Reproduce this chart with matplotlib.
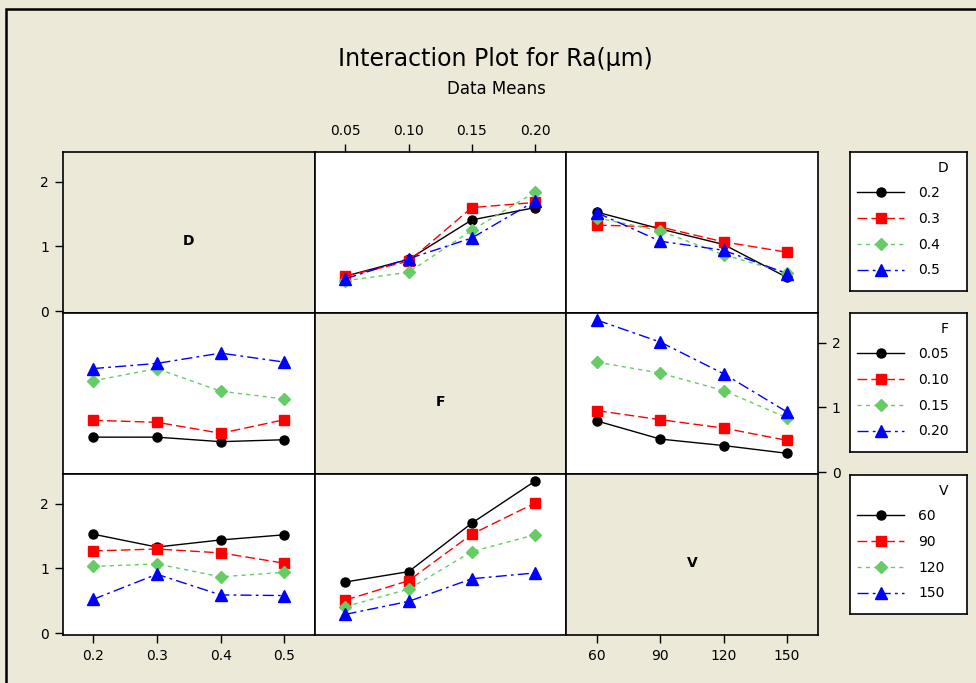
import numpy as np
import matplotlib
matplotlib.use('Agg')
import matplotlib.pyplot as plt
from matplotlib.patches import Rectangle

# ---- Data (means of Ra) ----
factors = ['D', 'F', 'V']
D_levels = [0.2, 0.3, 0.4, 0.5]
F_levels = [0.05, 0.10, 0.15, 0.20]
V_levels = [60, 90, 120, 150]
D_labels = ['0.2', '0.3', '0.4', '0.5']
F_labels = ['0.05', '0.10', '0.15', '0.20']
V_labels = ['60', '90', '120', '150']

# rows = D level, cols = F level
DF_means = [[0.54, 0.80, 1.41, 1.60],
            [0.54, 0.77, 1.60, 1.68],
            [0.47, 0.60, 1.25, 1.84],
            [0.50, 0.81, 1.13, 1.70]]
# rows = D level, cols = V level
DV_means = [[1.53, 1.27, 1.03, 0.52],
            [1.33, 1.30, 1.07, 0.91],
            [1.44, 1.24, 0.87, 0.59],
            [1.52, 1.08, 0.94, 0.58]]
# rows = F level, cols = V level
FV_means = [[0.79, 0.51, 0.41, 0.29],
            [0.95, 0.81, 0.68, 0.49],
            [1.70, 1.53, 1.26, 0.84],
            [2.35, 2.01, 1.52, 0.93]]

levels = [D_levels, F_levels, V_levels]
labels = [D_labels, F_labels, V_labels]
xlims = [(0.153, 0.547), (0.0255, 0.2245), (45.3, 164.7)]

tables = {
    (0, 1): np.array(DF_means), (1, 0): np.array(DF_means).T,
    (0, 2): np.array(DV_means), (2, 0): np.array(DV_means).T,
    (1, 2): np.array(FV_means), (2, 1): np.array(FV_means).T,
}

# ---- Styles ----
BG = '#ECE9D8'
colors = ['black', '#FF0000', '#66CC66', '#0000FF']
markers = ['o', 's', 'D', '^']
msizes = [6.5, 6.5, 6, 8]
lstyles = ['-', (0, (7, 3)), (0, (3, 3)), (0, (8, 3, 2, 3))]

W, H = 976, 683
fig = plt.figure(figsize=(W / 100, H / 100), dpi=100, facecolor=BG)

def px_axes(x0, y0, x1, y1):
    return fig.add_axes([x0 / W, 1 - y1 / H, (x1 - x0) / W, (y1 - y0) / H])

# outer border (top / left visible)
fig.patches.append(Rectangle((6 / W, -0.1), 2, 1 - 9 / H + 0.1,
                             transform=fig.transFigure, fill=False,
                             lw=1.8, ec='black'))

fig.text(495 / W, 1 - 59 / H, 'Interaction Plot for Ra(\u03bcm)',
         ha='center', va='center', fontsize=17)
fig.text(496 / W, 1 - 89 / H, 'Data Means', ha='center', va='center',
         fontsize=12)

col_x = [63, 314.5, 566, 818]
row_y = [152, 313, 474, 635]
handles = {}

for i in range(3):
    for j in range(3):
        ax = px_axes(col_x[j], row_y[i], col_x[j + 1], row_y[i + 1])
        for s in ax.spines.values():
            s.set_linewidth(1.2)
        ax.set_xlim(*xlims[j])
        ax.set_ylim(-0.03, 2.46)
        ax.set_xticks([])
        ax.set_yticks([])
        ax.tick_params(direction='out', length=6, width=1, labelsize=10,
                       pad=4)
        # y axis: left on rows 1 and 3, right on row 2
        if j == 0 and i in (0, 2):
            ax.set_yticks([0, 1, 2])
        if i == 1 and j == 2:
            ax.yaxis.tick_right()
            ax.set_yticks([0, 1, 2])
        # x axis: F on top of column 2, D and V at the bottom
        if i == 0 and j == 1:
            ax.xaxis.tick_top()
            ax.set_xticks(levels[j])
            ax.set_xticklabels(labels[j])
        if i == 2 and j in (0, 2):
            ax.set_xticks(levels[j])
            ax.set_xticklabels(labels[j])
        if i == j:
            ax.set_facecolor(BG)
            ax.text(0.5, 0.45, factors[i], transform=ax.transAxes,
                    ha='center', va='center', fontsize=10,
                    fontweight='bold')
            continue
        ax.set_facecolor('white')
        tab = tables[(i, j)]
        hs = []
        for k in range(4):
            h, = ax.plot(levels[j], tab[k], color=colors[k],
                         marker=markers[k], ms=msizes[k],
                         linestyle=lstyles[k], lw=1.0)
            hs.append(h)
        handles[i] = hs

# ---- Legends ----
leg_y = [(152, 291), (313, 452), (475, 614)]
for i in range(3):
    lax = px_axes(850, leg_y[i][0], 967, leg_y[i][1])
    lax.set_facecolor('white')
    lax.set_xticks([])
    lax.set_yticks([])
    for s in lax.spines.values():
        s.set_linewidth(1.2)
    lax.text(0.84, 0.885, factors[i], transform=lax.transAxes,
             ha='right', va='center', fontsize=10)
    lax.legend(handles[i], labels[i], loc='upper left',
               bbox_to_anchor=(0, 0.805), frameon=False, fontsize=10,
               handlelength=3.4, handletextpad=1.0, labelspacing=0.85,
               borderpad=0.5, borderaxespad=0)

fig.savefig('out.png', dpi=100, facecolor=BG)
